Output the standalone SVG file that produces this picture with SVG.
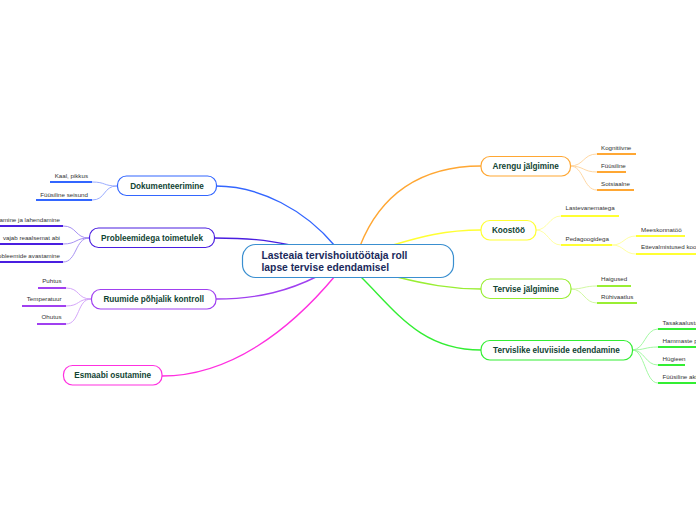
<svg xmlns="http://www.w3.org/2000/svg" width="696" height="520" viewBox="0 0 696 520">
<style>
.main{fill:none;stroke-width:1.4;stroke-linecap:round}
.lc{fill:none;stroke-width:0.9}
.ul{fill:none;stroke-width:2}
.node{fill:#fff;stroke-width:1.2}
.nt{font-family:"Liberation Sans",Arial,sans-serif;font-weight:bold;font-size:8.2px;fill:#114433;text-anchor:middle}
.lt{font-family:"Liberation Sans",Arial,sans-serif;font-size:6.2px;fill:#333}
.ltr{font-family:"Liberation Sans",Arial,sans-serif;font-size:6.2px;fill:#333;text-anchor:end}
.ct{font-family:"Liberation Sans",Arial,sans-serif;font-weight:bold;font-size:10.3px;fill:#1a2a5c}
</style>
<rect width="696" height="520" fill="#fff"/>
<g id="connectors">
<path class="main" stroke="#3366ff" d="M216,186 C260,186 305,210 335,246 L340,255"/>
<path class="main" stroke="#4a1ee0" d="M214,238 C250,238 265,240 290,245 L310,252"/>
<path class="main" stroke="#a040f0" d="M216,299 C260,299 290,290 318,276 L330,268"/>
<path class="main" stroke="#ff30e0" d="M162,376 C230,376 290,330 335,276 L340,268"/>
<path class="main" stroke="#ffa733" d="M355,256 L360,246 C380,195 420,166 481,166"/>
<path class="main" stroke="#ffff33" d="M370,252 L393,245 C420,237 445,230 481,230"/>
<path class="main" stroke="#99ee33" d="M375,270 L397,277 C425,284 450,289 481,289"/>
<path class="main" stroke="#33ee33" d="M355,268 L360,276 C395,310 420,350 481,350"/>
<!-- Dokumenteerimine leaves -->
<path class="lc" stroke="#8fa3ff" d="M117,186 C103,186 106,182 92,182"/>
<path class="lc" stroke="#8fa3ff" d="M117,186 C103,186 106,200 92,200"/>
<path class="ul" stroke="#3366ff" d="M50,182 H92 M36,200 H92"/>
<!-- Probleemidega leaves -->
<path class="lc" stroke="#9d85f0" d="M89,238 C75,238 77,226 63,226"/>
<path class="lc" stroke="#9d85f0" d="M89,238 C75,238 77,244 63,244"/>
<path class="lc" stroke="#9d85f0" d="M89,238 C75,238 77,262 63,262"/>
<path class="ul" stroke="#4a1ee0" d="M0,226 H63 M0,244 H63 M0,262 H63"/>
<!-- Ruumide leaves -->
<path class="lc" stroke="#cf9cf8" d="M91,299 C77,299 80,288 66,288"/>
<path class="lc" stroke="#cf9cf8" d="M91,299 C77,299 80,306 66,306"/>
<path class="lc" stroke="#cf9cf8" d="M91,299 C77,299 80,324 66,324"/>
<path class="ul" stroke="#a040f0" d="M38,288 H66 M22,306 H66 M37,324 H66"/>
<!-- Arengu leaves -->
<path class="lc" stroke="#ffd399" d="M570,166 C584,166 583,154 597,154"/>
<path class="lc" stroke="#ffd399" d="M570,166 C584,166 583,172 597,172"/>
<path class="lc" stroke="#ffd399" d="M570,166 C584,166 583,190 597,190"/>
<path class="ul" stroke="#ffa733" d="M597,154 H636 M597,172 H626 M597,190 H634"/>
<!-- Koostöö leaves -->
<path class="lc" stroke="#ffff99" d="M536,230 C548,230 549,216 561,216"/>
<path class="lc" stroke="#ffff99" d="M536,230 C548,230 549,245 561,245"/>
<path class="lc" stroke="#ffff99" d="M612,245 C624,245 624,236 636,236"/>
<path class="lc" stroke="#ffff99" d="M612,245 C624,245 624,254 636,254"/>
<path class="ul" stroke="#ffff33" d="M561,216 H619 M561,245 H612 M636,236 H685 M636,254 H696"/>
<!-- Tervise leaves -->
<path class="lc" stroke="#ccf799" d="M571,289 C584,289 584,286 597,286"/>
<path class="lc" stroke="#ccf799" d="M571,289 C584,289 584,303 597,303"/>
<path class="ul" stroke="#99ee33" d="M597,286 H631 M597,303 H637"/>
<!-- Tervislike leaves -->
<path class="lc" stroke="#99f799" d="M632,350 C645,350 645,329 658,329"/>
<path class="lc" stroke="#99f799" d="M632,350 C645,350 645,347 658,347"/>
<path class="lc" stroke="#99f799" d="M632,350 C645,350 645,365 658,365"/>
<path class="lc" stroke="#99f799" d="M632,350 C645,350 645,383 658,383"/>
<path class="ul" stroke="#33ee33" d="M658,329 H696 M658,347 H696 M658,365 H685 M658,383 H696"/>
</g>
<g id="central">
<rect x="242.5" y="244.5" width="211" height="33" rx="13" fill="#fff" stroke="#3a8fd0" stroke-width="1.2"/>
<text class="ct" x="261.5" y="259">Lasteaia tervishoiutöötaja roll</text>
<text class="ct" x="261.5" y="271">lapse tervise edendamisel</text>
</g>
<g id="dokumenteerimine">
<rect class="node" x="117.5" y="176" width="99" height="19.5" rx="9" stroke="#3366ff"/>
<text class="nt" x="167" y="188.7">Dokumenteerimine</text>
<text class="ltr" x="88" y="178">Kaal, pikkus</text>
<text class="ltr" x="88" y="196.5">Füüsiline seisund</text>
</g>
<g id="probleemidega">
<rect class="node" x="89.5" y="228" width="125" height="19.5" rx="9" stroke="#4a1ee0"/>
<text class="nt" x="152" y="240.7">Probleemidega toimetulek</text>
<text class="ltr" x="60" y="221.5">Probleemide märkamine ja lahendamine</text>
<text class="ltr" x="60" y="240">vajab reaalsemat abi</text>
<text class="ltr" x="60" y="258">Terviseprobleemide avastamine</text>
</g>
<g id="ruumide">
<rect class="node" x="91.5" y="289.5" width="124.5" height="19.5" rx="9" stroke="#a040f0"/>
<text class="nt" x="153.7" y="302">Ruumide põhjalik kontroll</text>
<text class="ltr" x="61.5" y="283">Puhtus</text>
<text class="ltr" x="61.5" y="301">Temperatuur</text>
<text class="ltr" x="61.5" y="319">Ohutus</text>
</g>
<g id="esmaabi">
<rect class="node" x="63.5" y="365.5" width="98.5" height="19.5" rx="9" stroke="#ff30e0"/>
<text class="nt" x="112.7" y="378">Esmaabi osutamine</text>
</g>
<g id="arengu">
<rect class="node" x="481" y="156.5" width="89.5" height="19.5" rx="9" stroke="#ffa733"/>
<text class="nt" x="525.7" y="169">Arengu jälgimine</text>
<text class="lt" x="601" y="150">Kognitiivne</text>
<text class="lt" x="601" y="168">Füüsiline</text>
<text class="lt" x="601" y="186">Sotsiaalne</text>
</g>
<g id="koostoo">
<rect class="node" x="481" y="220.5" width="55" height="19.5" rx="9" stroke="#ffff33"/>
<text class="nt" x="508.5" y="233">Koostöö</text>
<text class="lt" x="565.5" y="210">Lastevanematega</text>
<text class="lt" x="565.5" y="240.5">Pedagoogidega</text>
<text class="lt" x="641" y="232">Meeskonnatöö</text>
<text class="lt" x="641" y="248.5">Ettevalmistused koostööks</text>
</g>
<g id="tervise">
<rect class="node" x="481" y="279" width="90" height="19.5" rx="9" stroke="#99ee33"/>
<text class="nt" x="526" y="291.5">Tervise jälgimine</text>
<text class="lt" x="601" y="280.5">Haigused</text>
<text class="lt" x="601" y="298.5">Rühivaatlus</text>
</g>
<g id="tervislike">
<rect class="node" x="481" y="340.5" width="151.5" height="19.5" rx="9" stroke="#33ee33"/>
<text class="nt" x="556.5" y="353">Tervislike eluviiside edendamine</text>
<text class="lt" x="662.5" y="324.5">Tasakaalustatud toitumine</text>
<text class="lt" x="662.5" y="342.5">Hammaste pesemine</text>
<text class="lt" x="662.5" y="360.5">Hügieen</text>
<text class="lt" x="662.5" y="378.5">Füüsiline aktiivsus</text>
</g>
</svg>
